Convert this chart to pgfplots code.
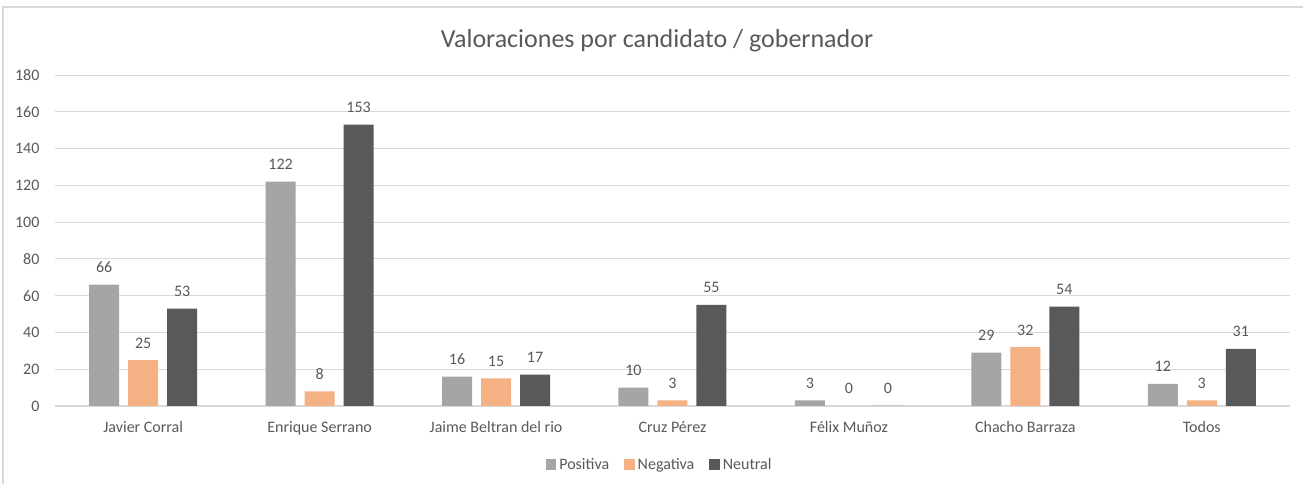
\documentclass[border=0pt]{standalone}
\usepackage{pgfplots}
\pgfplotsset{compat=1.18}
\usepackage{fontspec}
\setmainfont{Carlito}
\definecolor{cPos}{HTML}{A5A5A5}
\definecolor{cNeg}{HTML}{F4B183}
\definecolor{cNeu}{HTML}{595959}
\definecolor{txt}{HTML}{595959}
\definecolor{grid}{HTML}{D9D9D9}
\begin{document}
\begin{tikzpicture}[x=1pt,y=1pt]
\clip (-55pt,-78pt) rectangle (1248pt,406pt);
\fill[white] (-55pt,-78pt) rectangle (1248pt,406pt);
\draw[grid, line width=1.2pt] (-52pt,-100pt) -- (-52pt,399pt) -- (1270pt,399pt);
\begin{axis}[
  at={(0pt,0pt)}, anchor=south west,
  scale only axis, width=1235pt, height=331pt,
  ybar=9pt, bar width=30pt,
  xmin=-0.5, xmax=6.5, ymin=0, ymax=180,
  ytick={0,20,...,180},
  xtick={0,...,6},
  xticklabels={Javier Corral,Enrique Serrano,Jaime Beltran del rio,Cruz Pérez,Félix Muñoz,Chacho Barraza,Todos},
  axis line style={draw=none},
  axis x line*=bottom,
  x axis line style={draw=grid, line width=1.2pt},
  separate axis lines,
  ymajorgrids, grid style={draw=grid, line width=0.9pt},
  major tick length=0pt,
  tick label style={font=\fontsize{16}{19}\selectfont, text=txt},
  /pgf/number format/assume math mode=true,
  yticklabel style={anchor=east, xshift=-12pt},
  xticklabel style={anchor=base, yshift=-27pt},
  nodes near coords,
  every node near coord/.append style={font=\fontsize{16}{19}\selectfont, text=txt, anchor=base, yshift=12pt},
  legend columns=3,
  legend style={at={(0.490,-0.178)}, anchor=center, draw=none, fill=none,
    font=\fontsize{16}{19}\selectfont, text=txt,
    nodes={inner xsep=3pt},
    /tikz/every even column/.append style={column sep=12pt}},
  legend image code/.code={\fill[#1,draw=none] (0pt,-5pt) rectangle (10.5pt,5.5pt);},
  clip=false,
]
\addplot[fill=cPos, draw=none] coordinates {(0,66) (1,122) (2,16) (3,10) (4,3) (5,29) (6,12)};
\addplot[fill=cNeg, draw=none] coordinates {(0,25) (1,8) (2,15) (3,3) (4,0) (5,32) (6,3)};
\addplot[fill=cNeu, draw=none] coordinates {(0,53) (1,153) (2,17) (3,55) (4,0) (5,54) (6,31)};
\legend{Positiva,Negativa,Neutral}
\end{axis}
\node[font=\fontsize{26}{30}\selectfont, text=txt, anchor=base] at (602pt,358pt) {Valoraciones por candidato / gobernador};
\end{tikzpicture}
\end{document}
